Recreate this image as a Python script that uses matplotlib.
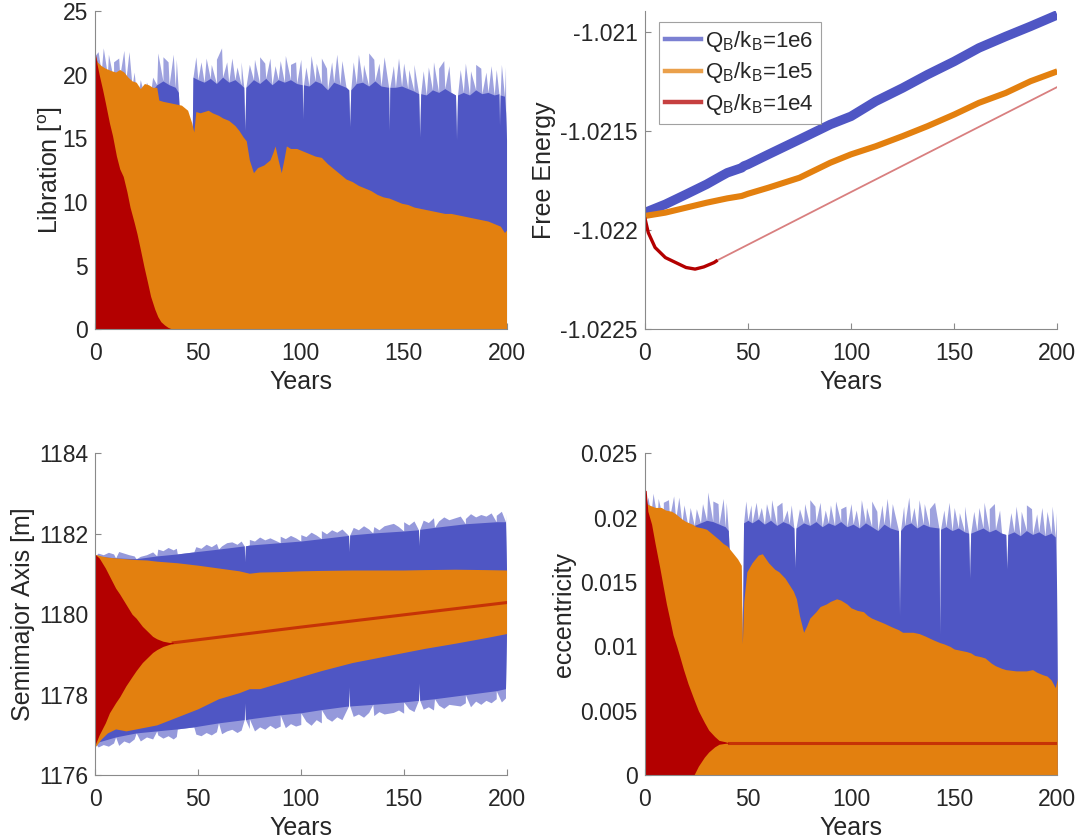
import numpy as np
import matplotlib.pyplot as plt
from matplotlib.lines import Line2D

plt.rcParams['font.family'] = ['Liberation Sans', 'DejaVu Sans']
plt.rcParams['mathtext.fontset'] = 'custom'
plt.rcParams['mathtext.rm'] = 'Liberation Sans'
plt.rcParams['mathtext.it'] = 'Liberation Sans:italic'

BLUE = '#4f56c4'
ORANGE = '#e3800f'
RED = '#b30000'
TXT = '#262626'
AXC = '#8a8a8a'

# ---------------- data ----------------
# years where the blue (QB/kB=1e6) band has visible spikes
spike_yr = [1.5, 4, 6.5, 9, 11.5, 14, 16.5, 19, 22, 25, 28, 30.5, 33, 35.5, 38, 39.5,
            49, 51.5, 54, 56.5, 59, 61.5, 64, 66.5, 69, 71,
            75, 77.5, 80, 82.5, 85, 87.5, 90, 92.5, 95, 97.5,
            100, 102.5, 105, 107.5, 110, 112.5, 115, 117.5, 120,
            125.5, 128, 130.5, 133, 135.5, 138, 140.5,
            145, 147.5, 150, 152.5, 155,
            159.5, 162, 164.5, 167, 169.5, 172,
            177.5, 180, 182.5, 185, 187.5, 190, 192.5, 195, 197.5, 199.5]

# libration [deg]
lib_blue = [(0, 21.5), (3, 20.2), (6, 20.0), (9, 19.6), (12, 19.9), (15, 19.6), (18, 19.1),
            (20, 18.6), (20.5, 14.5), (21, 18.5), (24, 18.3), (27, 18.6), (30, 19.2), (33, 19.5),
            (36, 19.2), (39, 19.0), (40.5, 18.6), (41, 17.0), (46, 16.0), (47.2, 15.0), (47.6, 19.8),
            (50, 19.6), (53, 19.4), (56, 19.7), (59, 19.3), (62, 19.8), (65, 19.4), (68, 19.6),
            (71, 19.2), (72.3, 19.0), (72.8, 15.6), (73.3, 19.0), (77, 19.6), (80, 19.3), (83, 19.7),
            (86, 19.2), (89, 19.6), (92, 19.4), (95, 19.6), (98, 19.3), (100.7, 19.2), (101, 16.5),
            (101.3, 19.2), (104, 19.1), (107, 19.5), (110, 19.3), (113, 18.8), (116, 19.4), (119, 19.2),
            (122, 19.0), (123.3, 18.8), (123.8, 15.9), (124.3, 18.8), (127, 19.3), (130, 19.4),
            (133, 19.1), (136, 19.5), (139, 19.1), (142.7, 19.0), (143, 15.6), (143.3, 19.0),
            (146, 19.0), (149, 19.1), (152, 18.9), (155, 18.7), (157.3, 18.5), (157.8, 15.1),
            (158.3, 18.5), (161, 18.4), (164, 18.8), (167, 18.6), (170, 18.9), (173, 18.6),
            (175.2, 18.4), (175.7, 14.9), (176.2, 18.4), (179, 18.6), (182, 18.4), (185, 18.8),
            (188, 18.5), (191, 18.6), (194, 18.4), (196.3, 18.5), (196.6, 16.0), (196.9, 18.4),
            (199, 18.3), (199.6, 17.0), (200, 14.9)]
lib_spike = [21.8, 22.1, 21.6, 21.0, 21.3, 21.9, 21.8, 20.2, 19.6, 19.4, 19.8, 21.7, 21.4, 21.0, 21.6, 21.2,
             21.4, 21.0, 21.3, 20.8, 21.2, 22.1, 21.0, 21.3, 20.6, 21.0,
             20.8, 21.2, 21.4, 20.9, 21.3, 20.7, 21.1, 21.5, 20.8, 21.0,
             21.2, 20.6, 21.5, 20.9, 21.3, 20.5, 21.0, 21.6, 21.1,
             21.0, 21.6, 20.8, 21.7, 21.2, 20.9, 21.4,
             20.7, 21.3, 20.9, 20.4, 20.8,
             20.3, 20.6, 21.0, 20.5, 21.1, 20.7,
             20.4, 20.9, 20.3, 20.8, 20.5, 20.2, 20.7, 20.4, 20.8, 20.6]
lib_orange = [(0, 21.6), (1, 21.0), (3, 20.7), (5, 20.5), (8, 20.3), (10, 20.2), (12, 20.4), (14, 20.2),
              (16, 19.8), (18, 19.5), (20, 19.4), (22, 18.9), (24, 19.3), (26, 19.2), (28, 19.0),
              (30, 19.0), (31, 18.0), (33, 17.9), (36, 17.8), (39, 17.7), (42, 17.6), (45, 17.2),
              (47, 16.2), (48, 15.5), (49, 17.1), (51, 17.0), (53, 17.1), (55, 17.2), (57, 17.0),
              (60, 16.8), (62, 16.6), (65, 16.4), (68, 16.0), (70, 15.6), (72, 15.1), (73.5, 14.8),
              (75, 13.3), (77, 12.3), (79, 12.7), (82, 12.9), (85, 13.3), (86.5, 13.9), (87.5, 14.4),
              (89, 13.3), (90.5, 12.3), (92, 13.5), (93, 14.4), (95, 14.2), (98, 14.2), (101, 14.0),
              (104, 13.8), (107, 13.6), (110, 13.5), (113, 13.0), (116, 12.6), (119, 12.2), (122, 11.8),
              (125, 11.6), (128, 11.3), (131, 11.1), (134, 10.9), (137, 10.6), (140, 10.4), (143, 10.3),
              (146, 10.1), (149, 9.9), (152, 9.8), (155, 9.6), (158, 9.5), (161, 9.4), (164, 9.3),
              (167, 9.2), (170, 9.1), (173, 9.1), (176, 9.0), (179, 8.9), (182, 8.8), (185, 8.7),
              (188, 8.6), (191, 8.5), (194, 8.3), (197, 8.1), (199, 7.6), (200, 7.8)]
lib_red = [(0, 21.8), (1, 20.8), (2, 20.0), (3.7, 18.8), (5, 17.8), (7, 16.2), (8.5, 15.2), (10.4, 13.6),
           (12, 12.6), (13.7, 12.0), (15.5, 10.8), (17, 9.6), (19, 8.4), (20.4, 7.5), (22, 6.3),
           (23.8, 4.9), (25.5, 3.7), (27, 2.6), (29, 1.6), (30.5, 1.0), (32, 0.6), (33.8, 0.34),
           (35.5, 0.15), (37, 0.05), (40, 0.0)]

# free energy
fe_blue = [(0, -1.021911), (10, -1.021869), (20, -1.021819), (30, -1.021768), (37, -1.021727),
           (40, -1.021710), (47, -1.021685), (48, -1.021676), (50, -1.021668), (60, -1.021617),
           (75, -1.021542), (90, -1.021466), (100, -1.021425), (112, -1.021349), (125, -1.021282),
           (137, -1.021215), (150, -1.021148), (162, -1.021080), (175, -1.021022), (187, -1.020971),
           (200, -1.020913)]
fe_orange = [(0, -1.021928), (10, -1.021911), (20, -1.021886), (30, -1.021861), (40, -1.021839),
             (47, -1.021827), (50, -1.021816), (60, -1.021785), (75, -1.021735), (90, -1.021659),
             (100, -1.021617), (112, -1.021576), (125, -1.021525), (137, -1.021475), (150, -1.021416),
             (162, -1.021357), (175, -1.021307), (187, -1.021248), (200, -1.021198)]
fe_red_early = [(0, -1.021936), (1.7, -1.022012), (5, -1.022087), (10, -1.022138), (15, -1.022163),
                (20, -1.022188), (24.4, -1.022196), (28.6, -1.022185), (33.6, -1.022163), (35.3, -1.022151)]
fe_red_late = [(35.3, -1.022151), (100, -1.021807), (200, -1.021277)]

# semimajor axis [m]
sma_blue_hi = [(0, 1181.45), (10, 1181.40), (20, 1181.38), (30, 1181.45), (40, 1181.50), (48, 1181.55),
               (60, 1181.62), (72.5, 1181.70), (72.8, 1181.30), (73.1, 1181.70), (75, 1181.72),
               (90, 1181.78), (100, 1181.82), (110, 1181.88), (123.2, 1181.96), (123.5, 1181.55),
               (123.8, 1181.97), (135, 1182.02), (150, 1182.07), (157.2, 1182.10), (157.5, 1181.70),
               (157.8, 1182.11), (165, 1182.16), (180, 1182.25), (195, 1182.30), (199.5, 1182.30),
               (200, 1181.10)]
sma_blue_lo = [(0, 1176.80), (10, 1176.95), (20, 1177.05), (30, 1177.10), (40, 1177.15), (48, 1177.20),
               (60, 1177.30), (72.5, 1177.38), (72.8, 1177.80), (73.1, 1177.38), (75, 1177.40),
               (90, 1177.50), (100, 1177.55), (110, 1177.63), (123.2, 1177.72), (123.5, 1178.20),
               (123.8, 1177.72), (135, 1177.76), (150, 1177.82), (157.2, 1177.86), (157.5, 1178.30),
               (157.8, 1177.86), (165, 1177.90), (180, 1178.00), (195, 1178.10), (199.5, 1178.15),
               (200, 1179.50)]
sma_spike_up = [1181.52, 1181.48, 1181.54, 1181.50, 1181.56, 1181.52, 1181.48, 1181.45, 1181.44, 1181.48,
                1181.55, 1181.62, 1181.58, 1181.66, 1181.60, 1181.64,
                1181.68, 1181.64, 1181.74, 1181.68, 1181.76, 1181.70, 1181.78, 1181.80, 1181.74, 1181.82,
                1181.86, 1181.82, 1181.92, 1181.85, 1181.90, 1181.84, 1181.94, 1181.88, 1181.96, 1181.90,
                1181.98, 1181.93, 1182.04, 1181.97, 1182.08, 1182.00, 1182.10, 1182.04, 1182.12,
                1182.16, 1182.10, 1182.20, 1182.12, 1182.18, 1182.10, 1182.20,
                1182.26, 1182.18, 1182.30, 1182.22, 1182.32,
                1182.34, 1182.28, 1182.40, 1182.32, 1182.42, 1182.35,
                1182.44, 1182.38, 1182.50, 1182.42, 1182.48, 1182.44, 1182.52, 1182.46, 1182.56, 1182.52]
sma_spike_dn = [1176.70, 1176.76, 1176.72, 1176.80, 1176.74, 1176.85, 1176.80, 1176.90, 1176.85, 1176.95,
                1176.90, 1177.00, 1176.92, 1176.98, 1176.90, 1176.96,
                1177.02, 1176.98, 1177.06, 1177.00, 1177.08, 1177.03, 1177.10, 1177.14, 1177.06, 1177.12,
                1177.16, 1177.10, 1177.20, 1177.14, 1177.24, 1177.16, 1177.22, 1177.18, 1177.28, 1177.22,
                1177.26, 1177.34, 1177.24, 1177.38, 1177.30, 1177.42, 1177.34, 1177.45, 1177.38,
                1177.46, 1177.52, 1177.44, 1177.56, 1177.48, 1177.58, 1177.52,
                1177.56, 1177.62, 1177.54, 1177.65, 1177.58,
                1177.64, 1177.70, 1177.62, 1177.74, 1177.66, 1177.76,
                1177.72, 1177.80, 1177.70, 1177.84, 1177.76, 1177.86, 1177.80, 1177.90, 1177.82, 1177.92]
sma_orange = [(0, 1181.49, 1176.70), (3, 1181.45, 1176.90), (6, 1181.42, 1177.05), (10, 1181.40, 1177.15),
              (15, 1181.38, 1177.10), (20, 1181.36, 1177.15), (25, 1181.35, 1177.20), (30, 1181.32, 1177.25),
              (35, 1181.30, 1177.35), (40, 1181.28, 1177.45), (45, 1181.25, 1177.55), (50, 1181.22, 1177.65),
              (60, 1181.15, 1177.90), (70, 1181.08, 1178.05), (75, 1181.02, 1178.15), (80, 1181.05, 1178.15),
              (90, 1181.06, 1178.30), (100, 1181.08, 1178.45), (110, 1181.09, 1178.60), (125, 1181.10, 1178.80),
              (140, 1181.10, 1178.95), (150, 1181.10, 1179.05), (160, 1181.11, 1179.15), (175, 1181.12, 1179.28),
              (190, 1181.11, 1179.42), (200, 1181.10, 1179.52)]
sma_red = [(0, 1181.49, 1176.75), (2, 1181.40, 1177.00), (5, 1181.15, 1177.30), (7, 1180.95, 1177.55),
           (10, 1180.65, 1177.80), (12, 1180.50, 1177.95), (15, 1180.25, 1178.22), (18, 1180.00, 1178.45),
           (20, 1179.90, 1178.60), (23, 1179.70, 1178.80), (25, 1179.60, 1178.90), (28, 1179.45, 1179.05),
           (30, 1179.39, 1179.12), (33, 1179.33, 1179.20), (36, 1179.30, 1179.25), (38, 1179.30, 1179.28)]
sma_red_late = [(38, 1179.29), (100, 1179.68), (200, 1180.29)]

# eccentricity
ecc_blue = [(0, 0.0205), (3, 0.0203), (6, 0.0200), (9, 0.0198), (12, 0.0200), (15, 0.0199), (18, 0.0196),
            (21, 0.0193), (24, 0.0194), (27, 0.0196), (30, 0.0198), (33, 0.0197), (36, 0.0195),
            (39, 0.0193), (40.5, 0.0190), (41, 0.0172), (46.5, 0.0160), (47.3, 0.0104), (47.9, 0.0196),
            (50, 0.0198), (52, 0.0196), (55, 0.0199), (58, 0.0195), (61, 0.0198), (64, 0.0194),
            (67, 0.0197), (70, 0.0195), (72.3, 0.0192), (72.8, 0.0161), (73.3, 0.0192), (77, 0.0196),
            (80, 0.0194), (83, 0.0197), (86, 0.0193), (89, 0.0196), (92, 0.0194), (95, 0.0197),
            (98, 0.0193), (101, 0.0195), (104, 0.0192), (107, 0.0196), (110, 0.0193), (113, 0.0190),
            (116, 0.0195), (119, 0.0192), (123, 0.0190), (123.5, 0.0124), (124, 0.0190), (126, 0.0194),
            (129, 0.0196), (132, 0.0192), (135, 0.0195), (138, 0.0193), (142.6, 0.0192), (143, 0.0109),
            (143.4, 0.0191), (146, 0.0193), (149, 0.0190), (152, 0.0192), (155, 0.0189), (157, 0.0188),
            (157.5, 0.0153), (158, 0.0188), (161, 0.0190), (164, 0.0192), (167, 0.0189), (170, 0.0191),
            (173, 0.0188), (175, 0.0187), (175.5, 0.0160), (176, 0.0187), (179, 0.0189), (182, 0.0186),
            (185, 0.0190), (188, 0.0187), (191, 0.0189), (194, 0.0186), (197, 0.0188), (199, 0.0185),
            (199.6, 0.0150), (200, 0.0067)]
ecc_spike = [0.0216, 0.0219, 0.0215, 0.0212, 0.0214, 0.0217, 0.0216, 0.0210, 0.0208, 0.0207, 0.0211,
             0.0220, 0.0213, 0.0211, 0.0215, 0.0212,
             0.0213, 0.0210, 0.0212, 0.0208, 0.0211, 0.0214, 0.0209, 0.0212, 0.0206, 0.0210,
             0.0207, 0.0211, 0.0214, 0.0209, 0.0212, 0.0206, 0.0210, 0.0213, 0.0207, 0.0209,
             0.0211, 0.0206, 0.0214, 0.0208, 0.0213, 0.0205, 0.0210, 0.0215, 0.0211,
             0.0209, 0.0216, 0.0208, 0.0214, 0.0211, 0.0207, 0.0212,
             0.0206, 0.0212, 0.0208, 0.0204, 0.0209,
             0.0205, 0.0208, 0.0212, 0.0207, 0.0211, 0.0206,
             0.0204, 0.0209, 0.0205, 0.0210, 0.0207, 0.0203, 0.0208, 0.0205, 0.0209, 0.0204]
ecc_orange = [(0, 0.0212), (2, 0.0210), (5, 0.0208), (8, 0.0208), (10, 0.0206), (13, 0.0205), (15, 0.0203),
              (18, 0.0199), (20, 0.0197), (23, 0.0195), (25, 0.0193), (28, 0.0192), (30, 0.0191),
              (33, 0.0187), (36, 0.0183), (38, 0.0180), (40, 0.0178), (43, 0.0172), (45, 0.0168),
              (46.8, 0.0163), (47.3, 0.0102), (48, 0.0135), (49.5, 0.0158), (52, 0.0165), (55, 0.0171),
              (57, 0.0172), (60, 0.0165), (63, 0.0160), (65, 0.0158), (68, 0.0153), (70, 0.0148),
              (72, 0.0143), (73.5, 0.0137), (75, 0.0124), (77, 0.0111), (78.5, 0.0116), (80, 0.0122),
              (83, 0.0127), (85, 0.0131), (88, 0.0133), (90, 0.0135), (93, 0.0137), (95, 0.0136),
              (98, 0.0133), (100, 0.0130), (103, 0.0128), (106, 0.0127), (108, 0.0124), (110, 0.0122),
              (113, 0.0120), (116, 0.0118), (120, 0.0115), (123, 0.0113), (125, 0.0111), (130, 0.0111),
              (133, 0.0110), (136, 0.0108), (140, 0.0105), (143, 0.0103), (145, 0.0102), (148, 0.0100),
              (150, 0.0098), (153, 0.0097), (156, 0.0096), (158, 0.0095), (160, 0.0093), (163, 0.0092),
              (165, 0.0091), (168, 0.0087), (170, 0.0085), (173, 0.0083), (175, 0.0082), (180, 0.0081),
              (185, 0.0081), (188, 0.0082), (190, 0.0080), (193, 0.0078), (195, 0.0077), (197, 0.0074),
              (199, 0.0068), (200, 0.0075)]
ecc_red = [(0, 0.0222, 0.0), (0.7, 0.0221, 0.0), (1.5, 0.0205, 0.0), (3.3, 0.0195, 0.0), (5, 0.0180, 0.0),
           (7.3, 0.0161, 0.0), (9, 0.0146, 0.0), (10.5, 0.0133, 0.0), (12, 0.0122, 0.0), (13.7, 0.0109, 0.0),
           (15.5, 0.0100, 0.0), (17, 0.0092, 0.0), (18.8, 0.0082, 0.0), (21, 0.0071, 0.0), (23.8, 0.0059, 0.0),
           (26, 0.0050, 0.0007), (28.9, 0.0041, 0.0014), (31, 0.0035, 0.0018), (33.9, 0.0030, 0.0022),
           (36, 0.0027, 0.0024), (38.9, 0.0026, 0.00247), (41, 0.0025, 0.0025)]
ecc_red_late = [(41, 0.0025), (200, 0.0025)]

labels = [r'Q$_\mathrm{B}$/k$_\mathrm{B}$=1e6', r'Q$_\mathrm{B}$/k$_\mathrm{B}$=1e5',
          r'Q$_\mathrm{B}$/k$_\mathrm{B}$=1e4']


def cols(pairs):
    return [list(c) for c in zip(*pairs)]


def with_spikes(pairs, spikes):
    # join the solid edge and the spike tips into one jagged edge
    pts = sorted(list(pairs) + list(zip(spike_yr, spikes)))
    return cols(pts)


def style(ax, ylabel, ypad=3):
    for s in ['top', 'right']:
        ax.spines[s].set_visible(False)
    for s in ['left', 'bottom']:
        ax.spines[s].set_color(AXC)
        ax.spines[s].set_linewidth(0.8)
        ax.spines[s].set_zorder(10)
    ax.tick_params(direction='in', length=4, width=0.8, color=AXC, labelcolor=TXT,
                   labelsize=16.5, pad=5)
    ax.tick_params(axis='x', pad=9)
    ax.set_xlim(0, 200)
    ax.set_xticks([0, 50, 100, 150, 200])
    ax.set_xlabel('Years', fontsize=18, color=TXT, labelpad=3.5)
    ax.set_ylabel(ylabel, fontsize=18, color=TXT, labelpad=ypad)


fig = plt.figure(figsize=(10.8, 8.38), dpi=100)
ax1 = fig.add_axes([0.088, 0.607, 0.381, 0.380])
ax2 = fig.add_axes([0.597, 0.607, 0.382, 0.380])
ax3 = fig.add_axes([0.088, 0.075, 0.381, 0.384])
ax4 = fig.add_axes([0.597, 0.075, 0.382, 0.384])

# --- libration ---
x, y = with_spikes(lib_blue, lib_spike)
ax1.fill_between(x, 0, y, color=BLUE, lw=0, alpha=0.55, zorder=1)
x, y = cols(lib_blue)
ax1.fill_between(x, 0, y, color=BLUE, lw=0, zorder=1.1)
x, y = cols(lib_orange)
ax1.fill_between(x, 0, y, color=ORANGE, lw=0, zorder=2)
x, y = cols(lib_red)
ax1.fill_between(x, 0, y, color=RED, lw=0, zorder=3)
style(ax1, r'Libration [$^\mathrm{o}$]', ypad=-1.5)
ax1.set_ylim(0, 25)
ax1.set_yticks([0, 5, 10, 15, 20, 25])

# --- free energy ---
x, y = cols(fe_blue)
ax2.plot(x, y, color=BLUE, lw=6.8, solid_capstyle='butt')
x, y = cols(fe_orange)
ax2.plot(x, y, color=ORANGE, lw=4.4, solid_capstyle='butt')
x, y = cols(fe_red_late)
ax2.plot(x, y, color=RED, lw=1.3, alpha=0.5)
x, y = cols(fe_red_early)
ax2.plot(x, y, color=RED, lw=2.4, solid_capstyle='butt')
style(ax2, 'Free Energy')
ax2.set_ylim(-1.0225, -1.020893)
ax2.set_yticks([-1.0225, -1.022, -1.0215, -1.021])
ax2.set_yticklabels(['-1.0225', '-1.022', '-1.0215', '-1.021'])
handles = [Line2D([], [], color=c, lw=3.2, alpha=0.75) for c in (BLUE, ORANGE, RED)]
leg = ax2.legend(handles, labels, loc='upper left', bbox_to_anchor=(0.034, 0.965),
                 borderaxespad=0, fontsize=16, frameon=True, fancybox=False,
                 handlelength=1.6, handletextpad=0.2, labelspacing=0.3,
                 borderpad=0.3)
leg.get_frame().set_edgecolor(AXC)
leg.get_frame().set_linewidth(0.8)
for t in leg.get_texts():
    t.set_color(TXT)

# --- semimajor axis ---
x, y = with_spikes(sma_blue_hi, sma_spike_up)
ax3.fill_between(x, 1180, y, color=BLUE, lw=0, alpha=0.6, zorder=1)
x, y = with_spikes(sma_blue_lo, sma_spike_dn)
ax3.fill_between(x, y, 1180, color=BLUE, lw=0, alpha=0.6, zorder=1)
x, y = cols(sma_blue_hi)
x2, y2 = cols(sma_blue_lo)
ax3.fill_between(x, y2, y, color=BLUE, lw=0, zorder=1.1)
x, hi, lo = cols(sma_orange)
ax3.fill_between(x, lo, hi, color=ORANGE, lw=0, zorder=2)
x, hi, lo = cols(sma_red)
ax3.fill_between(x, lo, hi, color=RED, lw=0, zorder=3)
x, y = cols(sma_red_late)
ax3.plot(x, y, color=RED, lw=2.2, alpha=0.6, zorder=3)
style(ax3, 'Semimajor Axis [m]')
ax3.set_ylim(1176, 1184)
ax3.set_yticks([1176, 1178, 1180, 1182, 1184])

# --- eccentricity ---
x, y = with_spikes(ecc_blue, ecc_spike)
ax4.fill_between(x, 0, y, color=BLUE, lw=0, alpha=0.55, zorder=1)
x, y = cols(ecc_blue)
ax4.fill_between(x, 0, y, color=BLUE, lw=0, zorder=1.1)
x, y = cols(ecc_orange)
ax4.fill_between(x, 0, y, color=ORANGE, lw=0, zorder=2)
x, hi, lo = cols(ecc_red)
ax4.fill_between(x, lo, hi, color=RED, lw=0, zorder=3)
x, y = cols(ecc_red_late)
ax4.plot(x, y, color=RED, lw=2.2, alpha=0.6, zorder=3)
style(ax4, 'eccentricity')
ax4.set_ylim(0, 0.025)
ax4.set_yticks([0, 0.005, 0.01, 0.015, 0.02, 0.025])
ax4.set_yticklabels(['0', '0.005', '0.01', '0.015', '0.02', '0.025'])

fig.savefig('out.png', dpi=100)
